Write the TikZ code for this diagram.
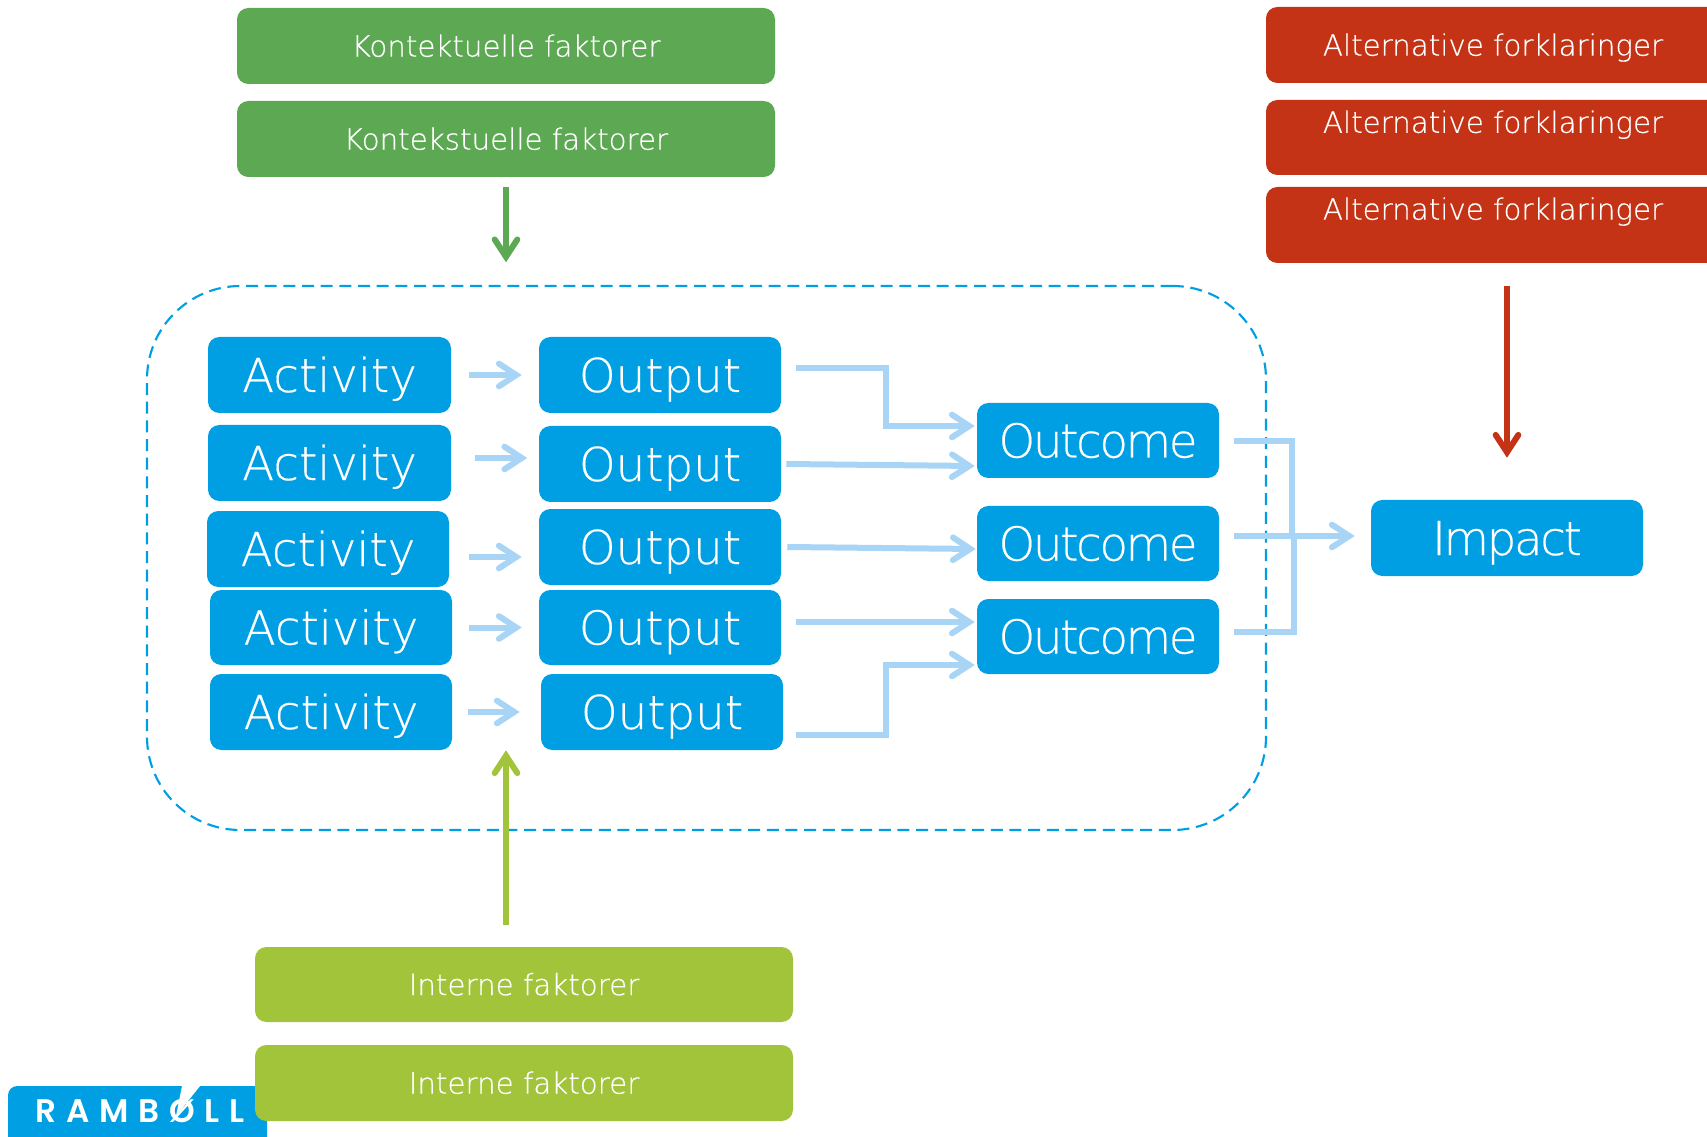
\documentclass[tikz,border=0pt]{standalone}
\usepackage{fontspec}
\setmainfont[FakeBold=0.4]{DejaVu Sans ExtraLight}
\newfontfamily\tightfont[FakeBold=0.4,LetterSpace=-5]{DejaVu Sans ExtraLight}
\newfontfamily\logofont[LetterSpace=30]{Poppins SemiBold}
\usetikzlibrary{arrows.meta}
\definecolor{rblue}{HTML}{009FE3}
\definecolor{rlight}{HTML}{A8D4F5}
\definecolor{rgreen}{HTML}{5DA853}
\definecolor{rlime}{HTML}{A2C43A}
\definecolor{rred}{HTML}{C43316}
\newcommand{\pxbox}[7]{\node[#1, minimum width={(#5-#3)*0.75pt}, minimum height={(#6-#4)*0.75pt}] (#2) at ({(#3+#5)/2},{(#4+#6)/2}) {#7};}
\tikzset{
  card/.style={rounded corners=8.5pt, inner sep=0pt, text=white, text depth=0pt},
  big/.style={card, fill=rblue, font=\fontsize{35}{35}\selectfont, text height=25.5pt},
  bigtight/.style={big, font=\tightfont\fontsize{35}{35}\selectfont},
  small/.style={card, font=\fontsize{22}{22}\selectfont, text height=16pt},
  ctx/.style={small, fill=rgreen},
  inner/.style={small, fill=rlime},
  alt/.style={small, fill=rred},
  flow/.style={draw=rlight, line width=4.5pt, miter limit=10, -{Straight Barb[length=13pt,width=17pt,line cap=round,line join=miter]}},
  flowplain/.style={draw=rlight, line width=4.5pt},
  bigarrow/.style={line width=4.5pt, -{Straight Barb[length=13pt,width=17pt,line cap=round,line join=miter]}},
}
\begin{document}
\begin{tikzpicture}[x=0.75pt,y=-0.75pt]
\useasboundingbox (0,0) rectangle (1707,1137);
\clip (0,0) rectangle (1707,1137);
% logo
\fill[rblue, rounded corners=7pt] (8,1086) rectangle (267,1160);
\node[inner sep=0pt, text=white, font=\logofont\fontsize{24.5}{24.5}\selectfont] (logo) at (140,1111) {RAMBØLL};
\fill[white] (182,1086) -- (200,1086) -- (176,1116) -- cycle;
% dashed frame
\pxbox{draw=rblue, line width=1.6pt, dash pattern=on 9pt off 5pt, rounded corners=70pt}{frame}{147}{286}{1266}{830}{}
% context
\pxbox{ctx}{c1}{237}{8}{775}{84}{Kontektuelle faktorer}
\pxbox{ctx}{c2}{237}{101}{775}{177}{Kontekstuelle faktorer}
% alternatives
\pxbox{alt}{r1}{1266}{7}{1720}{83}{Alternative forklaringer}
\pxbox{alt}{r2}{1266}{100}{1720}{175}{\raisebox{11.5pt}{Alternative forklaringer}}
\pxbox{alt}{r3}{1266}{187}{1720}{263}{\raisebox{12pt}{Alternative forklaringer}}
% internal
\pxbox{inner}{i1}{255}{947}{793}{1022}{Interne faktorer}
\pxbox{inner}{i2}{255}{1045}{793}{1121}{Interne faktorer}
% activities
\pxbox{big}{a1}{208}{337}{451}{413}{Activity}
\pxbox{big}{a2}{208}{425}{451}{501}{Activity}
\pxbox{big}{a3}{207}{511}{449}{587}{Activity}
\pxbox{big}{a4}{210}{590}{452}{665}{Activity}
\pxbox{big}{a5}{210}{674}{452}{750}{Activity}
% outputs
\pxbox{big}{o1}{539}{337}{781}{413}{Output}
\pxbox{big}{o2}{539}{426}{781}{502}{Output}
\pxbox{big}{o3}{539}{509}{781}{585}{Output}
\pxbox{big}{o4}{539}{590}{781}{665}{Output}
\pxbox{big}{o5}{541}{674}{783}{750}{Output}
% outcomes
\pxbox{bigtight}{u1}{977}{403}{1219}{478}{Outcome}
\pxbox{bigtight}{u2}{977}{506}{1219}{581}{Outcome}
\pxbox{bigtight}{u3}{977}{599}{1219}{674}{Outcome}
% impact
\pxbox{bigtight}{imp}{1371}{500}{1643}{576}{Impact}
% activity -> output
\draw[flow] ([shift={(18,0)}]a1.east) -- ([shift={(-17,0)}]o1.west);
\draw[flow] ([shift={(24,-5)}]a2.east) -- ([shift={(-11.5,-6)}]o2.west);
\draw[flow] ([shift={(20,8)}]a3.east) -- ([shift={(-17,10)}]o3.west);
\draw[flow] ([shift={(17,0)}]a4.east) -- ([shift={(-17,0)}]o4.west);
\draw[flow] ([shift={(16,0)}]a5.east) -- ([shift={(-21,0)}]o5.west);
% output -> outcome
\draw[flow] ([shift={(15,-7)}]o1.east) -- ++(90,0) |- ([shift={(-2,-14.5)}]u1.west);
\draw[flow] ([shift={(5,0)}]o2.east) -- ([shift={(-2,25.5)}]u1.west);
\draw[flow] ([shift={(6,0)}]o3.east) -- ([shift={(-1,5.5)}]u2.west);
\draw[flow] ([shift={(15,-5.5)}]o4.east) -- ([shift={(-2,-14.5)}]u3.west);
\draw[flow] ([shift={(13,23)}]o5.east) -- ++(90,0) |- ([shift={(-2,28.5)}]u3.west);
% outcome -> impact
\draw[flowplain] ([shift={(15,0.5)}]u1.east) -- ++(58,0) -- ++(0,95);
\draw[flowplain] ([shift={(15,-4.5)}]u3.east) -- ++(60,0) -- ++(0,-96);
\draw[flow] ([shift={(15,-7.5)}]u2.east) -- ([shift={(-16,-2)}]imp.west);
% influences
\draw[bigarrow, draw=rgreen] ([shift={(0,10)}]c2.south) -- ([shift={(0,85)}]c2.south);
\draw[bigarrow, draw=rlime] ([shift={(0,-22)}]i1.north -| c2.south) -- (o5.south -| c2.south);
\draw[bigarrow, draw=rred] ([shift={(0,23)}]r3.south -| imp.north) -- ([shift={(0,-42)}]imp.north);
\end{tikzpicture}
\end{document}
